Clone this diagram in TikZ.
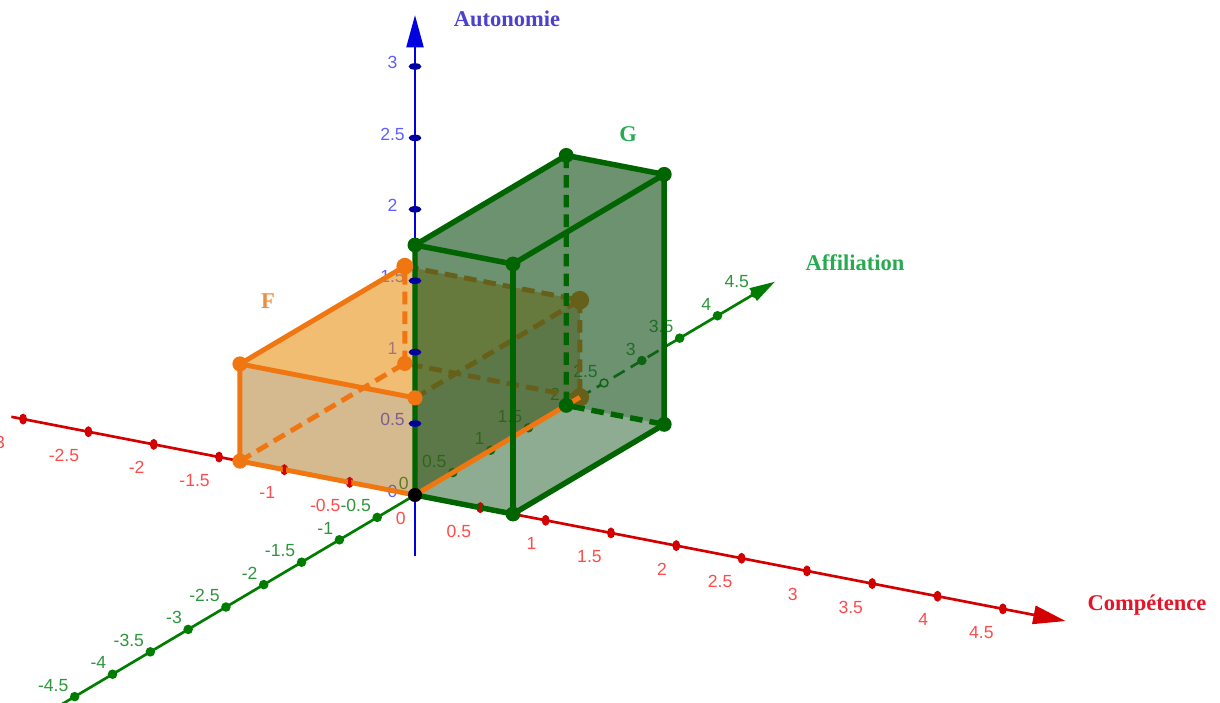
\documentclass[tikz,border=0pt]{standalone}
\usepackage{fontspec}
\setmainfont{Liberation Serif}
\newfontfamily\ticksf{Liberation Sans}
\usepackage{tikz}
\usetikzlibrary{arrows.meta}

\definecolor{axisred}{RGB}{210,0,0}
\definecolor{labelred}{RGB}{255,75,75}
\definecolor{axisgreen}{RGB}{0,125,0}
\definecolor{labelgreen}{RGB}{45,150,60}
\definecolor{axisblue}{RGB}{0,0,225}
\definecolor{tickblue}{RGB}{0,0,160}
\definecolor{labelblue}{RGB}{95,95,255}
\definecolor{edgegreen}{RGB}{0,100,0}
\definecolor{edgeorange}{RGB}{240,118,18}
\definecolor{ffill}{RGB}{160,95,0}
\definecolor{ftop}{RGB}{255,150,0}
\definecolor{gfill}{RGB}{25,85,32}
\definecolor{titleblue}{RGB}{75,65,205}
\definecolor{titlegreen}{RGB}{40,170,80}
\definecolor{titlered}{RGB}{230,20,40}
\definecolor{titleorange}{RGB}{240,140,60}

\newcommand{\ticktext}{\ticksf\fontsize{12.5}{15}\selectfont}
\newcommand{\titletext}{\fontsize{16}{19}\selectfont\bfseries}

\begin{document}
\begin{tikzpicture}[
  x=0.025cm,y=0.025cm,
  xaxis/.style={axisred,line width=1.9pt},
  yaxis/.style={axisgreen,line width=1.9pt},
  zaxis/.style={axisblue,line width=1.9pt},
  gedge/.style={edgegreen,line width=3.9pt},
  fedge/.style={edgeorange,line width=3.5pt},
  hidden/.style={dash pattern=on 9pt off 5pt},
  xlab/.style={labelred,font=\ticktext,anchor=north east,xshift=-6.4pt,yshift=-12pt,inner sep=0pt},
  ylab/.style={labelgreen,font=\ticktext,anchor=south east,xshift=-4.3pt,yshift=3.6pt,inner sep=0pt},
  zlab/.style={labelblue,font=\ticktext,xshift=-16pt,yshift=2.8pt,inner sep=0pt},
  title/.style={font=\titletext,inner sep=1pt}
]
\useasboundingbox (0,0) rectangle (1220,702);
\clip (0,0) rectangle (1220,702);

\begin{scope}[shift={(415,207)},x={(3.265cm,-0.6325cm)},y={(1.89cm,1.12cm)},z={(0cm,3.57cm)}]
% corners of the two boxes
\coordinate (O) at (0,0,0);
\coordinate (Fa) at (-1.34,0,0);
\coordinate (Fb) at (0,0,0);
\coordinate (Fc) at (0,0,0.68);
\coordinate (Fd) at (-1.34,0,0.68);
\coordinate (Fe) at (-1.34,2.18,0);
\coordinate (Ff) at (0,2.18,0);
\coordinate (Fg) at (0,2.18,0.68);
\coordinate (Fh) at (-1.34,2.18,0.68);
\coordinate (Ga) at (0,0,0);
\coordinate (Gb) at (0.75,0,0);
\coordinate (Gc) at (0.75,0,1.75);
\coordinate (Gd) at (0,0,1.75);
\coordinate (Ge) at (0,2,0);
\coordinate (Gf) at (0.75,2,0);
\coordinate (Gg) at (0.75,2,1.75);
\coordinate (Gh) at (0,2,1.75);

% axes
\draw[xaxis,-{Triangle[length=23pt,width=13pt]}] (-3.09,0,0) -- (4.98,0,0);
\draw[yaxis] (0,-4.8,0) -- (0,2.18,0);
\draw[yaxis,hidden] (0,2.18,0) -- (0,3.27,0);
\draw[yaxis,-{Triangle[length=18pt,width=10pt]}] (0,3.27,0) -- (0,4.76,0);
\draw[zaxis,-{Triangle[length=23pt,width=12pt]}] (0,0,-0.43) -- (0,0,3.36);

% ticks and their values
\foreach \t in {-3,-2.5,-2,-1.5,-1,-0.5,0.5,1,1.5,2,2.5,3,3.5,4,4.5}
  \fill[axisred] (\t,0,0) ellipse[x radius=2.8pt,y radius=3.9pt];
\foreach \t in {-4.5,-4,-3.5,-3,-2.5,-2,-1.5,-1,-0.5,0.5,1,1.5,2,3,3.5,4,4.5}
  \fill[axisgreen] (0,\t,0) circle[radius=3.4pt];
\draw[axisgreen,line width=1pt,fill=white] (0,2.5,0) circle[radius=2.8pt];
\node[xlab,xshift=-6.4pt] (xlab0) at (-3,0,0) {-3};
\foreach \t [count=\i] in {-2.5,-2,-1.5,-1,-0.5,0,0.5,1,1.5,2,2.5,3,3.5,4,4.5}
  \node[xlab] (xlab\i) at (\t,0,0) {\t};
\foreach \t [count=\i] in {-4.5,-4,-3.5,-3,-2.5,-2,-1.5,-1,-0.5,0,0.5,1,1.5,2,2.5,3,3.5,4,4.5}
  \node[ylab] (ylab\i) at (0,\t,0) {\t};
\foreach \t [count=\i] in {0,0.5,1,1.5,2,2.5,3}
  \node[zlab] (zlab\i) at (0,0,\t) {\t};

% faces of F
\fill[ffill,fill opacity=.25] (Fa) -- (Fe) -- (Fh) -- (Fd) -- cycle;
\fill[ffill,fill opacity=.25] (Fa) -- (Fb) -- (Ff) -- (Fe) -- cycle;
\fill[ffill,fill opacity=.25] (Fe) -- (Ff) -- (Fg) -- (Fh) -- cycle;
\fill[ffill,fill opacity=.25] (Fb) -- (Ff) -- (Fg) -- (Fc) -- cycle;
\fill[ffill,fill opacity=.25] (Fa) -- (Fb) -- (Fc) -- (Fd) -- cycle;
\fill[ftop,fill opacity=.4] (Fd) -- (Fc) -- (Fg) -- (Fh) -- cycle;

% hidden edges of F
\draw[fedge,hidden] (Fa) -- (Fe) -- (Ff);
\draw[fedge,hidden] (Fe) -- (Fh) -- (Fg) -- (Ff);
\draw[fedge,hidden] (Fc) -- (Fg);
\foreach \p in {Ff,Fg}
  \fill[edgeorange] (\p) circle[radius=6.6pt];

% faces of G
\fill[gfill,fill opacity=.15] (Ga) -- (Gb) -- (Gf) -- (Ge) -- cycle;
\fill[gfill,fill opacity=.4] (Ga) -- (Ge) -- (Gh) -- (Gd) -- cycle;
\fill[gfill,fill opacity=.4] (Ge) -- (Gf) -- (Gg) -- (Gh) -- cycle;
\fill[gfill,fill opacity=.4] (Gb) -- (Gf) -- (Gg) -- (Gc) -- cycle;
\fill[gfill,fill opacity=.4] (Ga) -- (Gb) -- (Gc) -- (Gd) -- cycle;
\fill[gfill,fill opacity=.4] (Gd) -- (Gc) -- (Gg) -- (Gh) -- cycle;

% hidden edges of G
\draw[gedge,hidden] (Gh) -- (Ge) -- (Gf);

% visible edges
\draw[fedge] (Fb) -- (Ff);
\draw[fedge] (Fb) -- (Fa) -- (Fd) -- (Fc);
\draw[fedge] (Fd) -- (Fh);
\draw[gedge] (Gd) -- (Ga) -- (Gb) -- (Gf) -- (Gg) -- (Gh) -- (Gd) -- (Gc) -- (Gg);
\draw[gedge] (Gb) -- (Gc);
\foreach \t in {-1,-0.5,0.5}
  \fill[axisred] (\t,0,0) ellipse[x radius=1.2pt,y radius=3.9pt];

% corner points
\foreach \p in {Fa,Fd,Fe}
  \fill[edgeorange] (\p) circle[radius=5.4pt];
\fill[edgeorange] (Fh) circle[radius=6pt];
\foreach \p in {Gb,Gc,Gd,Ge,Gf,Gg,Gh}
  \fill[edgegreen] (\p) circle[radius=5.3pt];
\foreach \t in {0.5,1,1.5,2,2.5,3}
  \fill[tickblue] (0,0,\t) ellipse[x radius=4.6pt,y radius=2.3pt];
\fill[edgeorange] (Fc) circle[radius=5.4pt];
\fill[black] (O) circle[radius=5pt];
\end{scope}

% names
\node[title,text=titleblue] (autonomie) at (507,683) {Autonomie};
\node[title,text=titlegreen] (affiliation) at (855,439) {Affiliation};
\node[title,text=titlered] (competence) at (1147,97) {Compétence};
\node[title,text=titlegreen] (labelG) at (628,568) {G};
\node[title,text=titleorange] (labelF) at (268,401) {F};
\end{tikzpicture}
\end{document}
